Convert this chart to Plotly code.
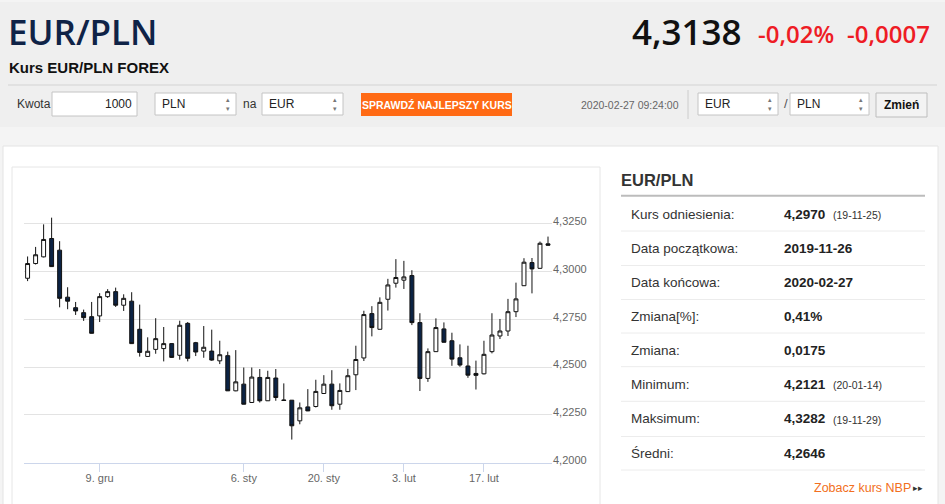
import plotly.graph_objects as go

W, H = 945, 504

# ---------------- data ----------------
dates = [
    "2019-11-26", "2019-11-27", "2019-11-28", "2019-11-29",
    "2019-12-02", "2019-12-03", "2019-12-04", "2019-12-05", "2019-12-06",
    "2019-12-09", "2019-12-10", "2019-12-11", "2019-12-12", "2019-12-13",
    "2019-12-16", "2019-12-17", "2019-12-18", "2019-12-19", "2019-12-20",
    "2019-12-23", "2019-12-24", "2019-12-26", "2019-12-27",
    "2019-12-30", "2019-12-31", "2020-01-02", "2020-01-03",
    "2020-01-06", "2020-01-07", "2020-01-08", "2020-01-09", "2020-01-10",
    "2020-01-13", "2020-01-14", "2020-01-15", "2020-01-16", "2020-01-17",
    "2020-01-20", "2020-01-21", "2020-01-22", "2020-01-23", "2020-01-24",
    "2020-01-27", "2020-01-28", "2020-01-29", "2020-01-30", "2020-01-31",
    "2020-02-03", "2020-02-04", "2020-02-05", "2020-02-06", "2020-02-07",
    "2020-02-10", "2020-02-11", "2020-02-12", "2020-02-13", "2020-02-14",
    "2020-02-17", "2020-02-18", "2020-02-19", "2020-02-20", "2020-02-21",
    "2020-02-24", "2020-02-25", "2020-02-26", "2020-02-27",
]
opens = [
    4.2965, 4.3042, 4.3077, 4.3173,
    4.3112, 4.2866, 4.2811, 4.2785, 4.2764,
    4.2768, 4.2869, 4.2895, 4.2824, 4.2845,
    4.2698, 4.2556, 4.2593, 4.2597, 4.2623,
    4.2562, 4.2729, 4.2628, 4.2584,
    4.2584, 4.2533, 4.2560, 4.2376,
    4.2411, 4.2315, 4.2446, 4.2324, 4.2443,
    4.2328, 4.2327, 4.2219, 4.2292, 4.2294,
    4.2362, 4.2411, 4.2306, 4.2372, 4.2460,
    4.2548, 4.2780, 4.2698, 4.2855, 4.2939,
    4.2955, 4.2979, 4.2733, 4.2441, 4.2581,
    4.2700, 4.2638, 4.2549, 4.2506, 4.2467,
    4.2465, 4.2581, 4.2663, 4.2689, 4.2790,
    4.2926, 4.3047, 4.3017, 4.3145,
]
highs = [
    4.3079, 4.3129, 4.3247, 4.3282,
    4.3159, 4.2918, 4.2841, 4.2801, 4.2841,
    4.2887, 4.2908, 4.2916, 4.2881, 4.2892,
    4.2827, 4.2656, 4.2756, 4.2710, 4.2625,
    4.2743, 4.2736, 4.2632, 4.2715,
    4.2696, 4.2638, 4.2581, 4.2589,
    4.2498, 4.2498, 4.2490, 4.2481, 4.2490,
    4.2415, 4.2328, 4.2315, 4.2385, 4.2434,
    4.2458, 4.2484, 4.2415, 4.2491, 4.2612,
    4.2795, 4.2819, 4.2865, 4.2962, 4.3065,
    4.3056, 4.3007, 4.2782, 4.2598, 4.2755,
    4.2734, 4.2680, 4.2619, 4.2612, 4.2534,
    4.2638, 4.2782, 4.2752, 4.2857, 4.2942,
    4.3070, 4.3071, 4.3157, 4.3183,
]
lows = [
    4.2950, 4.3037, 4.3074, 4.3024,
    4.2813, 4.2803, 4.2773, 4.2742, 4.2676,
    4.2736, 4.2862, 4.2815, 4.2794, 4.2622,
    4.2555, 4.2555, 4.2570, 4.2530, 4.2548,
    4.2539, 4.2530, 4.2558, 4.2549,
    4.2533, 4.2516, 4.2375, 4.2374,
    4.2305, 4.2314, 4.2315, 4.2323, 4.2324,
    4.2325, 4.2121, 4.2201, 4.2270, 4.2289,
    4.2361, 4.2277, 4.2277, 4.2370, 4.2380,
    4.2532, 4.2661, 4.2697, 4.2796, 4.2916,
    4.2909, 4.2720, 4.2375, 4.2423, 4.2580,
    4.2629, 4.2507, 4.2502, 4.2444, 4.2383,
    4.2462, 4.2572, 4.2647, 4.2663, 4.2762,
    4.2925, 4.2886, 4.3015, 4.3136,
]
closes = [
    4.3042, 4.3088, 4.3168, 4.3026,
    4.2860, 4.2845, 4.2794, 4.2759, 4.2677,
    4.2869, 4.2895, 4.2824, 4.2860, 4.2623,
    4.2577, 4.2583, 4.2649, 4.2623, 4.2551,
    4.2719, 4.2546, 4.2579, 4.2604,
    4.2537, 4.2565, 4.2376, 4.2423,
    4.2306, 4.2448, 4.2324, 4.2446, 4.2341,
    4.2326, 4.2193, 4.2287, 4.2271, 4.2373,
    4.2411, 4.2298, 4.2378, 4.2455, 4.2540,
    4.2775, 4.2707, 4.2839, 4.2930, 4.2969,
    4.2972, 4.2733, 4.2441, 4.2581, 4.2707,
    4.2630, 4.2542, 4.2511, 4.2458, 4.2457,
    4.2567, 4.2668, 4.2689, 4.2790, 4.2857,
    4.3049, 4.3014, 4.3148, 4.3138,
]

x_tick_dates = ["2019-12-09", "2020-01-06", "2020-01-20", "2020-02-03", "2020-02-17"]
x_tick_labels = ["9. gru", "6. sty", "20. sty", "3. lut", "17. lut"]
y_tick_values = [4.20, 4.225, 4.25, 4.275, 4.30, 4.325, 4.35]
y_tick_labels = ["4,2000", "4,2250", "4,2500", "4,2750", "4,3000", "4,3250", ""]

table_labels = ["Kurs odniesienia:", "Data początkowa:", "Data końcowa:", "Zmiana[%]:",
                "Zmiana:", "Minimum:", "Maksimum:", "Średni:"]
table_values = ["4,2970", "2019-11-26", "2020-02-27", "0,41%", "0,0175", "4,2121", "4,3282", "4,2646"]
table_notes = ["(19-11-25)", "", "", "", "", "(20-01-14)", "(19-11-29)", ""]

# ---------------- helpers ----------------
def fx(p):
    return p / W


def fy(p):
    return 1 - p / H


shapes = []
annotations = []
SANS = "Liberation Sans, Arial, sans-serif"
OPEN = "Open Sans, sans-serif"


def rect(x0, y0, x1, y1, fill, line=None, lw=1):
    shapes.append(dict(type="rect", xref="paper", yref="paper",
                       x0=fx(x0), x1=fx(x1), y0=fy(y1), y1=fy(y0),
                       fillcolor=fill, layer="below",
                       line=dict(color=line if line else fill, width=lw if line else 0)))


def hline(x0, x1, y, color, lw=1):
    shapes.append(dict(type="line", xref="paper", yref="paper",
                       x0=fx(x0), x1=fx(x1), y0=fy(y), y1=fy(y),
                       line=dict(color=color, width=lw), layer="below"))


def vline(x, y0, y1, color, lw=1):
    shapes.append(dict(type="line", xref="paper", yref="paper",
                       x0=fx(x), x1=fx(x), y0=fy(y0), y1=fy(y1),
                       line=dict(color=color, width=lw), layer="below"))


def text(x, y, s, size, color, weight="normal", anchor="left", family=SANS):
    annotations.append(dict(x=fx(x), y=fy(y), xref="paper", yref="paper", text=s,
                            showarrow=False, xanchor=anchor, yanchor="middle",
                            borderpad=0,
                            font=dict(size=size, color=color, family=family, weight=weight)))


def select(x0, x1, label):
    rect(x0, 93, x1, 115, "#ffffff", "#c4c4c4")
    text(x0 + 6, 104, label, 12, "#222222")
    text(x1 - 8, 104, "▴<br>▾", 7, "#777777", anchor="center")


# ---------------- page background ----------------
rect(0, 2, W, 127, "#efefef")
rect(3, 146, 938, H + 5, "#ffffff", "#e4e4e4")
rect(12, 167, 600, H + 5, "#ffffff", "#e6e6e6")

# header
text(7, 31, "EUR/PLN", 35, "#0f2347", weight=600, family=OPEN)
text(8, 68, "Kurs EUR/PLN FOREX", 15, "#111111", weight="bold")
text(743, 31, "4,3138", 35, "#111111", weight=600, anchor="right", family=OPEN)
text(835, 34, "-0,02%", 24, "#ee1c25", weight=600, anchor="right", family=OPEN)
text(931, 34, "-0,0007", 24, "#ee1c25", weight=600, anchor="right", family=OPEN)
hline(8, 937, 85, "#d3d3d3")

# controls row
text(16, 104, "Kwota", 12, "#333333")
rect(52, 92, 137, 116, "#ffffff", "#c4c4c4")
text(133, 104, "1000", 12, "#222222", anchor="right")
select(155, 236, "PLN")
text(242, 104, "na", 12, "#333333")
select(262, 343, "EUR")
rect(361, 93, 512, 116, "#ff6a14")
text(436.5, 104.5, "SPRAWDŹ NAJLEPSZY KURS", 10.5, "#ffffff", weight="bold", anchor="center")
text(580, 104.5, "2020-02-27 09:24:00", 10.5, "#666666")
vline(688, 90, 119, "#cccccc")
select(698, 778, "EUR")
text(783, 104, "/", 13, "#555555")
select(790, 869, "PLN")
rect(876, 93, 927, 117, "#f3f3f3", "#bdbdbd")
text(901.5, 105, "Zmień", 12, "#111111", weight="bold", anchor="center")

# right-hand table
text(620, 180, "EUR/PLN", 16.5, "#333333", weight="bold")
hline(621, 925, 195.7, "#bcbcbc", 2)
row_centers = [214, 248.5, 282.5, 316, 350, 384.3, 418.7, 453.3]
row_lines = [231, 265.5, 299.5, 333, 366.7, 401.3, 436.5, 470]
for yl in row_lines:
    hline(621, 925, yl, "#ececec")
for yc, lab, val, note in zip(row_centers, table_labels, table_values, table_notes):
    text(630, yc, lab, 13.5, "#333333")
    text(783, yc, val, 13.5, "#222222", weight="bold")
    if note:
        text(832, yc + 1, note, 10.5, "#333333")
text(912, 487.5, "Zobacz kurs NBP", 12.5, "#f26f21", anchor="right")
text(924, 488, "▸▸", 9, "#333333", anchor="right")

# ---------------- chart ----------------
fig = go.Figure()
fig.add_trace(go.Candlestick(
    x=dates, open=opens, high=highs, low=lows, close=closes,
    increasing=dict(fillcolor="#ffffff", line=dict(color="#111111", width=1)),
    decreasing=dict(fillcolor="#0c2344", line=dict(color="#111111", width=1)),
    whiskerwidth=0, showlegend=False, hoverinfo="x+y",
))

fig.update_layout(
    width=W, height=H,
    autosize=False,
    margin=dict(l=0, r=0, t=0, b=0, pad=0, autoexpand=False),
    paper_bgcolor="#f4f4f4",
    plot_bgcolor="#ffffff",
    shapes=shapes,
    annotations=annotations,
    showlegend=False,
    boxgap=0.3,
    xaxis=dict(
        type="category",
        domain=[fx(24), fx(552)],
        range=[-0.45, len(dates) - 0.5],
        tickmode="array", tickvals=x_tick_dates, ticktext=x_tick_labels,
        ticks="outside", ticklen=8, tickcolor="#ccd6eb", tickwidth=1,
        ticklabelstandoff=-3,
        showline=True, linecolor="#ccd6eb", linewidth=1,
        showgrid=False, zeroline=False, automargin=False,
        rangeslider=dict(visible=False),
        tickfont=dict(size=11, color="#666666", family=SANS),
        fixedrange=True,
    ),
    yaxis=dict(
        domain=[fy(462.7), fy(176)],
        range=[4.20, 4.35],
        side="right",
        tickmode="array", tickvals=y_tick_values, ticktext=y_tick_labels,
        ticklabelposition="outside top",
        ticklabelshift=5,
        showgrid=True, gridcolor="#e3e3e3", gridwidth=1,
        zeroline=False, showline=False, ticks="", automargin=False,
        tickfont=dict(size=11, color="#666666", family=SANS),
        fixedrange=True,
    ),
)

fig.write_html(
    "out.html",
    config=dict(displayModeBar=False),
    post_script=(
        "var s=document.createElement('style');"
        "s.textContent='html,body{margin:0;padding:0;overflow:hidden;height:504px;}"
        "body>div{height:504px;line-height:0;}';"
        "document.head.appendChild(s);"
    ),
)
